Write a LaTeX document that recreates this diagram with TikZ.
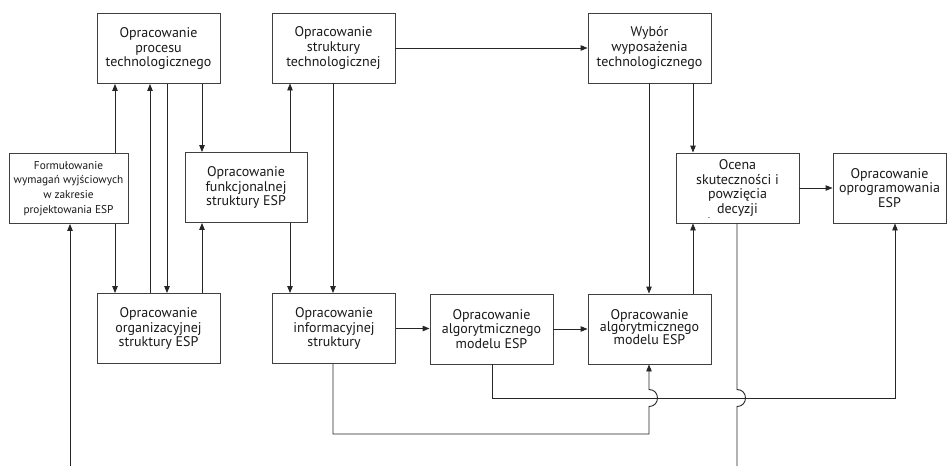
\documentclass[tikz,border=0pt]{standalone}
\usepackage{fontspec}
\setmainfont{PT Sans}
\usetikzlibrary{arrows.meta}
\begin{document}
\begin{tikzpicture}[x=1pt,y=-1pt,
  box/.style={draw=black!75, line width=0.9pt, minimum width=123pt, minimum height=70pt,
              align=center, inner sep=2pt, text=black!90,
              font=\fontsize{14}{14.7}\selectfont},
  narrowbox/.style={box, minimum width=119pt, font=\fontsize{11.3}{14.7}\selectfont},
  link/.style={draw=black!85, line width=0.9pt},
  arr/.style={link, -{Triangle[length=7pt,width=5.5pt]}}
]
\useasboundingbox (0,0) rectangle (948,466);

% upper row
\node[box] (proc)  at (158.5,48.5) {Opracowanie\\procesu\\technologicznego};
\node[box] (struk) at (333.5,48)   {Opracowanie\\struktury\\technologicznej};
\node[box] (wyb)   at (649.5,48)   {Wybór\\wyposażenia\\technologicznego};

% middle row
\node[narrowbox] (form) at (68.5,188.5) {Formułowanie\\wymagań wyjściowych\\w zakresie\\projektowania ESP};
\node[box, minimum width=122pt] (funk) at (246,187.5) {Opracowanie\\funkcjonalnej\\struktury ESP};
\node[box] (ocena) at (737.5,188) {Ocena\\skuteczności i\\powzięcia\\decyzji};
\node[font=\fontsize{9}{9}\selectfont, inner sep=0pt] (mark) at (709,218) {.};
\node[box, minimum width=113pt] (oprog) at (889.5,188) {Opracowanie\\oprogramowania\\ESP};

% lower row
\node[box] (org)  at (158.5,328.5) {Opracowanie\\organizacyjnej\\struktury ESP};
\node[box] (info) at (334,328.5)   {Opracowanie\\informacyjnej\\struktury};
\node[box] (alg1) at (491.5,329)   {Opracowanie\\algorytmicznego\\modelu ESP};
\node[box] (alg2) at (649.5,329)   {\raisebox{3pt}{\begin{tabular}{@{}c@{}}Opracowanie\\[-2.5pt]algorytmicznego\\[-2.5pt]modelu ESP\end{tabular}}};

% column guides for the vertical connectors
\coordinate (cK) at (70,0);
\coordinate (cA) at (115,0);
\coordinate (cB) at (150,0);
\coordinate (cC) at (167,0);
\coordinate (cD) at (202,0);
\coordinate (cE) at (290,0);
\coordinate (cF) at (333,0);
\coordinate (cL) at (492,0);
\coordinate (cG) at (649,0);
\coordinate (cH) at (693,0);
\coordinate (cI) at (737,0);
\coordinate (cJ) at (895,0);
% row guides for the bottom runs
\coordinate (rUp) at (0,398);
\coordinate (rLo) at (0,434);
% loose ends at the bottom edge
\coordinate (inK) at (70,466);
\coordinate (outI) at (737,466);

% left block
\draw[arr] (cA |- form.north) -- (cA |- proc.south);
\draw[arr] (cA |- form.south) -- (cA |- org.north);
\draw[arr] (cB |- org.north)  -- (cB |- proc.south);
\draw[arr] (cC |- proc.south) -- (cC |- org.north);
\draw[arr] (cD |- proc.south) -- (cD |- funk.north);
\draw[arr] (cD |- org.north)  -- (cD |- funk.south);
\draw[arr] (cE |- funk.north) -- (cE |- struk.south);
\draw[arr] (cE |- funk.south) -- (cE |- info.north);
\draw[arr] (cF |- struk.south) -- (cF |- info.north);
\draw[arr] (inK) -- (cK |- form.south);

% top and right block
\draw[arr] (struk.east) -- (wyb.west |- struk.east);
\draw[arr] (cG |- wyb.south) -- (cG |- alg2.north);
\draw[arr] (cH |- wyb.south) -- (cH |- ocena.north);
\draw[arr] (cH |- alg2.north) -- (cH |- ocena.south);
\draw[arr] (ocena.east) -- (oprog.west |- ocena.east);

% lower chain
\draw[arr] (info.east) -- (alg1.west |- info.east);
\draw[arr] (alg1.east) -- (alg2.west |- alg1.east);

% bottom runs, with hops where the verticals cross the upper run
\draw[arr] (cF |- info.south) -- (cF |- rLo) -- (cG |- rLo) -- (649,406.5)
   .. controls (660.3,406.5) and (660.3,389.5) .. (649,389.5) -- (cG |- alg2.south);
\draw[arr] (cL |- alg1.south) -- (cL |- rUp) -- (cJ |- rUp) -- (cJ |- oprog.south);
\draw[link] (cI |- ocena.south) -- (737,389.5)
   .. controls (748.3,389.5) and (748.3,406.5) .. (737,406.5) -- (outI);
\end{tikzpicture}
\end{document}
